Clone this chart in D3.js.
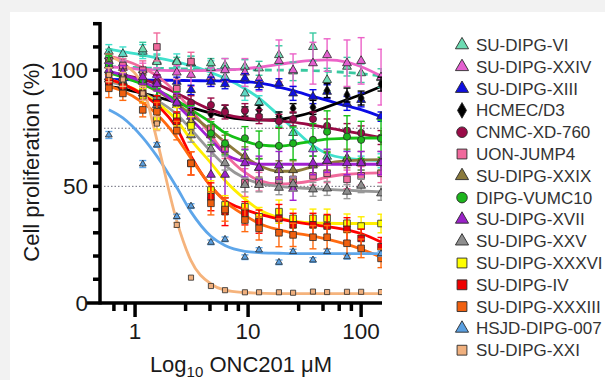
<!DOCTYPE html>
<html><head><meta charset="utf-8">
<script src="https://cdn.jsdelivr.net/npm/d3@7"></script>
<style>body{margin:0;background:#f2f2f2} svg{display:block}</style>
</head><body>
<svg id="c" width="605" height="380"></svg>
<script>
// ---------- data ----------
const conc = [0.586, 0.78, 1.17, 1.56, 2.34, 3.125, 4.69, 6.25, 9.375, 12.5, 18.75, 25, 37.5, 50, 75, 100, 150];
const yTickVals = [0, 10, 20, 30, 40, 50, 60, 70, 80, 90, 100, 110, 120];
const yLabelVals = [0, 50, 100];
const xMajor = [1, 10, 100];
const xMinor = [0.65, 0.82, 2.8, 4.6, 6.4, 8.2, 28, 46, 64, 82];
const refLines = [75, 50];

const names = ["SU-DIPG-VI","SU-DIPG-XXIV","SU-DIPG-XIII","HCMEC/D3","CNMC-XD-760","UON-JUMP4","SU-DIPG-XXIX","DIPG-VUMC10","SU-DIPG-XVII","SU-DIPG-XXV","SU-DIPG-XXXVI","SU-DIPG-IV","SU-DIPG-XXXIII","HSJD-DIPG-007","SU-DIPG-XXI"];

const VI_pts  = [106,103,109,103.5,103.5,103,103,102,101.5,100.8,106.5,99.5,110,95.8,101.5,98.7,96.6];
const VI_err  = [3,2,3,3,2,3,2,3,3,3,4,4,6,5,4,4,4];
const VI_fit  = [101.5,101.3,101,100.8,100.6,100.5,100.4,100.3,100.2,100.1,100,100,99.8,99.5,99,98.5,97.5];

const VIb_pts = [108,107,108,104,104,103,101,97,90,86,79,73,66,62.8,62.2,60,61];
const VIb_err = [3,3,3,3,3,3,3,3,3,3,3,3,3,3,3,3,3];
const VIb_fit = [109,108,106.5,105.3,103.5,102,99,96.5,92,88,80.5,75,67.5,64,62,61.5,61];

const XXIV_pts = [102,101,100,98,99,98,97,100,99,96,104,100,103,106.5,103,104,97];
const XXIV_err = [3,3,3,3,3,5,4,5,6,5,9,7,9,7,10,10,12];
const XXIV_fit = [101.5,101,100.3,100,99.8,99.8,99.9,100.1,100.6,101.3,102.5,103.3,104.2,104.4,103.5,101.5,97.5];

const XIII_pts = [97,95,96,95,95,91.5,95,94,96.5,93.6,94.3,90,88.6,90.7,85.7,87.2,80];
const XIII_err = [2,2,2,3,2,2,2,2,2,2,2,3,3,3,3,3,2];
const XIII_fit = [96,95.9,95.8,95.7,95.6,95.5,95.4,95.3,95,94.5,92.7,91.2,88.7,87,84.6,83,80];

const HC_pts = [94,93,91,87,86,83,81,82.9,82.2,82.9,80,83.6,84,91.2,89.3,88,94];
const HC_err = [2,2,2,2,2,2,2,2,2,2,2,2,3,3,3,3,3];
const HC_fit = [93,92,90,88.5,86,84,81.5,80,78.8,78.5,78.8,79.8,82,84.2,87.3,89.5,93];

const CN_pts = [98,97,95,95,89,86,85,82,82.6,80,78,79,79,76,74,73,71];
const CN_err = [3,3,3,3,3,3,3,3,3,3,3,3,3,3,3,3,3];
const CN_fit = [99,98,96,94,90,87,83,81,79.3,78.7,78.2,77.6,76.3,75.3,73.7,72.6,71];

const UON_pts = [104,102,100,110,92,103.7,75,66,51.6,52,52.7,53,54.5,55.6,53,54.5,55.6];
const UON_err = [3,3,4,6,4,4,4,4,6,4,4,4,4,4,4,4,4];
const UON_fit = [106,104.5,101,97.5,90,83,72,64,56,52.5,51,51.3,52.5,54,55.2,55.6,55.8];

const XXIX_pts = [104,97,95,88,85,78,72,68,63,58,57,57,59,61,62,61,61];
const XXIX_err = [3,3,3,4,4,4,4,4,4,4,4,4,4,4,4,4,4];
const XXIX_fit = [99,97.5,94,91,85.5,81,74,69,62.5,59,56.5,56.5,58.5,60,61,61.3,61.5];

const VU_pts = [102.2,95,95.8,87.2,85.7,80.7,72.8,68.5,70.7,67.8,67.4,68.5,70,73.5,71.4,70,70.5];
const VU_err = [4,4,4,5,5,4,5,5,5,6,8,7,7,9,9,8,8];
const VU_fit = [99,97,94,91.5,87,83,77.5,73,69.5,67.8,67.3,68,69.5,70.3,70.7,70.8,70.8];

const XVII_pts = [100,99,97,94,86,80,55,55,60,58,59,49,60,61,60,60,60];
const XVII_err = [3,3,3,3,4,4,10,10,6,5,6,5,5,5,5,5,5];
const XVII_fit = [99.5,98,95,92,85,79,70,64,60.5,59.5,59.5,59.5,59.5,59.5,59.5,59.5,59.5];

const XXV_pts = [96,93,90,85,79,72,66,60,50.6,50.6,49.4,51,48.7,49.1,47.7,50.3,47];
const XXV_err = [2,2,3,3,3,3,3,3,3,3,3,3,3,3,3,3,3];
const XXV_fit = [95,93.5,90,87,81,74.5,65,59,53.5,51.3,50,49.5,49,48.7,48.3,48,47.7];

const XXXVI_pts = [95,93,89,78.6,80,76,48.4,42,41.2,36.9,39.1,36.2,36.2,36.2,34.1,32.9,34];
const XXXVI_err = [3,3,3,4,4,4,4,4,4,4,5,4,4,4,4,4,4];
const XXXVI_fit = [96,94,90,86,78.5,70,60,52.5,44.5,40,36.5,35,34.3,34.1,34,34,34];

const IV_pts = [95,93,90,86,78,59.9,45.5,39.1,38.4,34.8,36.2,33.4,33.4,32.9,31.5,27.6,24];
const IV_err = [3,3,3,3,4,5,6,6,5,5,6,5,5,5,5,4,4];
const IV_fit = [96,94,89.5,85,75,63,50,44,40,38,36,34.8,33.5,32.7,31.3,29.7,26];

const XXXIII_pts = [92.2,90,82.9,82.1,74,59.9,42.7,40,35.5,31.9,30,29.1,28.1,28.1,25.5,23.3,19];
const XXXIII_err = [4,3,3,4,4,5,5,5,5,5,6,5,5,5,5,4,4];
const XXXIII_fit = [93,91,86,81,71,62,50,43.5,37.5,34,31.3,30,28.6,27.3,25,23,19.5];

const HSJD_pts = [72.1,null,59.6,67.8,37,41.5,25.9,27.2,19.5,22.6,17.3,21.9,18.3,21.9,19.7,null,21];
const HSJD_err = [1.5,0,1.5,1,1,1,1,1,1,1,1,1,1,1,1,0,1];
const HSJD_fit = [83,79.5,71,63,49.5,39,28.5,24.5,22,21.5,21.2,21,21,21,21,21,21];

const XXI_pts = [98,96,90,77,33.4,10.7,7.1,5.3,4.4,4.4,4.4,4.2,4.7,4.5,4.6,4.6,4.5];
const XXI_err = [3,3,3,3,1,0,0,0,0,0,0,0,0,0,0,0,0];
const XXI_fit = [106,103,93,70,35,18,8,5.3,4.3,4,3.8,3.8,3.8,3.8,3.8,3.8,3.8];

const series = [
  {name:names[0],  shape:"triangle", fill:"#6ddbb2", line:"#38c9a0", dash:true,  pts:VI_pts,  err:VI_err,  fit:VI_fit,  legend:true},
  {name:names[1],  shape:"triangle", fill:"#e45fd0", line:"#ec62c8", pts:XXIV_pts, err:XXIV_err, fit:XXIV_fit, legend:true},
  {name:names[2],  shape:"triangle", fill:"#1010e0", line:"#0a0ae6", pts:XIII_pts, err:XIII_err, fit:XIII_fit, legend:true},
  {name:names[3],  shape:"diamond",  fill:"#000000", line:"#000000", pts:HC_pts, err:HC_err, fit:HC_fit, legend:true},
  {name:names[4],  shape:"circle",   fill:"#9a0b48", line:"#990a45", pts:CN_pts, err:CN_err, fit:CN_fit, legend:true},
  {name:names[5],  shape:"square",   fill:"#f0699c", line:"#f06a9c", pts:UON_pts, err:UON_err, fit:UON_fit, legend:true},
  {name:names[6],  shape:"triangle", fill:"#8a7a3c", line:"#8c7b3a", pts:XXIX_pts, err:XXIX_err, fit:XXIX_fit, legend:true},
  {name:names[7],  shape:"circle",   fill:"#1db51d", line:"#16c016", pts:VU_pts, err:VU_err, fit:VU_fit, legend:true},
  {name:names[8],  shape:"triangle", fill:"#9a22c8", line:"#a020d0", pts:XVII_pts, err:XVII_err, fit:XVII_fit, legend:true},
  {name:names[9],  shape:"triangle", fill:"#8e8e8e", line:"#979797", pts:XXV_pts, err:XXV_err, fit:XXV_fit, legend:true},
  {name:names[10], shape:"square",   fill:"#ffff00", line:"#ffee00", pts:XXXVI_pts, err:XXXVI_err, fit:XXXVI_fit, legend:true},
  {name:names[11], shape:"square",   fill:"#ee0000", line:"#ff0000", pts:IV_pts, err:IV_err, fit:IV_fit, legend:true},
  {name:names[12], shape:"square",   fill:"#f06010", line:"#ff6a10", pts:XXXIII_pts, err:XXXIII_err, fit:XXXIII_fit, legend:true},
  {name:names[13], shape:"triangle", fill:"#5a9fe0", line:"#5ea6ea", small:true, pts:HSJD_pts, err:HSJD_err, fit:HSJD_fit, legend:true},
  {name:names[14], shape:"square",   fill:"#f0b07e", line:"#f5b37c", small:true, pts:XXI_pts, err:XXI_err, fit:XXI_fit, legend:true},
  {name:names[0]+" (rep)", shape:"triangle", fill:"#5fd8c4", line:"#40e0cc", pts:VIb_pts, err:VIb_err, fit:VIb_fit, legend:false}
];

// ---------- scales ----------
const svg = d3.select("#c");
svg.append("rect").attr("x",10).attr("y",12).attr("width",595).attr("height",368).attr("fill","#ffffff");

const x = d3.scaleLog().domain([0.47, 153]).range([98, 382]);
const y = d3.scaleLinear().domain([0, 120]).range([302.5, 23.7]);

svg.append("defs").append("clipPath").attr("id","plot")
  .append("rect").attr("x",100).attr("y",0).attr("width",282).attr("height",303);

// reference dotted lines
svg.append("g").selectAll("line").data(refLines).join("line")
  .attr("x1",104).attr("x2",382).attr("y1",d=>y(d)).attr("y2",d=>y(d))
  .attr("stroke","#6a6a7a").attr("stroke-width",1).attr("stroke-dasharray","1.5,2");

const plot = svg.append("g").attr("clip-path","url(#plot)");
const lineGen = d3.line().x(d=>x(d[0])).y(d=>y(d[1])).curve(d3.curveMonotoneX);

// curves
const drawOrder = [15,0,1,2,3,4,5,6,7,8,9,10,11,12,13,14];
drawOrder.forEach(i=>{
  const s = series[i];
  plot.append("path").datum(conc.map((c,j)=>[c,s.fit[j]]))
    .attr("d",lineGen).attr("fill","none").attr("stroke",s.line)
    .attr("stroke-width",2.8).attr("stroke-dasharray",s.dash?"7,5":null);
});

const symMap = {triangle:d3.symbolTriangle, square:d3.symbolSquare, circle:d3.symbolCircle, diamond:d3.symbolDiamond};
function symSize(s, big){
  const base = {triangle:34, square:44, circle:40, diamond:32}[s.shape];
  if (big) return base*2.2;
  return s.small ? base*0.6 : base;
}

// error bars + markers
drawOrder.forEach(i=>{
  const s = series[i];
  const pts = conc.map((c,j)=>({c, v:s.pts[j], e:s.err[j]})).filter(d=>d.v!==null);
  const g = plot.append("g");
  const eb = pts.filter(d=>d.e>0);
  g.selectAll("line.v").data(eb).join("line").attr("class","v")
    .attr("x1",d=>x(d.c)).attr("x2",d=>x(d.c)).attr("y1",d=>y(d.v-d.e)).attr("y2",d=>y(d.v+d.e))
    .attr("stroke",s.line).attr("stroke-width",1.4);
  ["t","b"].forEach(k=>{
    g.selectAll("line.c"+k).data(eb).join("line").attr("class","c"+k)
      .attr("x1",d=>x(d.c)-3.5).attr("x2",d=>x(d.c)+3.5)
      .attr("y1",d=>y(k==="t"?d.v+d.e:d.v-d.e)).attr("y2",d=>y(k==="t"?d.v+d.e:d.v-d.e))
      .attr("stroke",s.line).attr("stroke-width",1.4);
  });
  g.selectAll("path").data(pts).join("path")
    .attr("d",d3.symbol().type(symMap[s.shape]).size(symSize(s,false)))
    .attr("transform",d=>`translate(${x(d.c)},${y(d.v)})`)
    .attr("fill",s.fill).attr("stroke","#2a2a2a").attr("stroke-width",0.8);
});

// ---------- axes ----------
const ax = svg.append("g").attr("stroke","#000").attr("stroke-width",3.5).attr("stroke-linecap","butt");
ax.append("line").attr("x1",100).attr("x2",100).attr("y1",22).attr("y2",304.5);
ax.append("line").attr("x1",86).attr("x2",382).attr("y1",303).attr("y2",303);
ax.selectAll("line.yt").data(yTickVals.filter(v=>v>0)).join("line").attr("class","yt")
  .attr("x1",93).attr("x2",100).attr("y1",d=>y(d)).attr("y2",d=>y(d));
ax.selectAll("line.xm").data(xMinor).join("line").attr("class","xm")
  .attr("x1",d=>x(d)).attr("x2",d=>x(d)).attr("y1",303).attr("y2",311);
ax.selectAll("line.xM").data(xMajor).join("line").attr("class","xM")
  .attr("x1",d=>x(d)).attr("x2",d=>x(d)).attr("y1",303).attr("y2",317);

const font = "'Liberation Sans', Arial, Helvetica, sans-serif";
svg.append("g").selectAll("text").data(yLabelVals).join("text")
  .attr("x",88).attr("y",d=>y(d)+8).attr("text-anchor","end")
  .attr("font-family",font).attr("font-size",22.5).attr("fill","#1a1a1a").text(d=>d);
svg.append("g").selectAll("text").data(xMajor).join("text")
  .attr("x",d=>x(d)).attr("y",338.5).attr("text-anchor","middle")
  .attr("font-family",font).attr("font-size",22.5).attr("fill","#1a1a1a").text(d=>d);

const xt = svg.append("text").attr("x",241).attr("y",371.5).attr("text-anchor","middle")
  .attr("font-family",font).attr("font-size",22).attr("fill","#1a1a1a");
xt.append("tspan").text("Log");
xt.append("tspan").attr("font-size",15).attr("dy",5).text("10");
xt.append("tspan").attr("dy",-5).text(" ONC201 μM");

svg.append("text").attr("transform","translate(38.5,162) rotate(-90)").attr("text-anchor","middle")
  .attr("font-family",font).attr("font-size",22).attr("fill","#1a1a1a").text("Cell proliferation (%)");

// ---------- legend ----------
const leg = svg.append("g");
const legSeries = series.filter(s=>s.legend);
legSeries.forEach((s,k)=>{
  const cy = 45 + 21.8*k;
  leg.append("path").attr("d",d3.symbol().type(symMap[s.shape]).size(symSize({shape:s.shape},true)))
    .attr("transform",`translate(462,${cy})`).attr("fill",s.fill).attr("stroke","#2a2a2a").attr("stroke-width",0.9);
  leg.append("text").attr("x",476).attr("y",cy+6).attr("font-family",font).attr("font-size",17)
    .attr("fill","#333").text(s.name);
});
</script>
</body></html>
